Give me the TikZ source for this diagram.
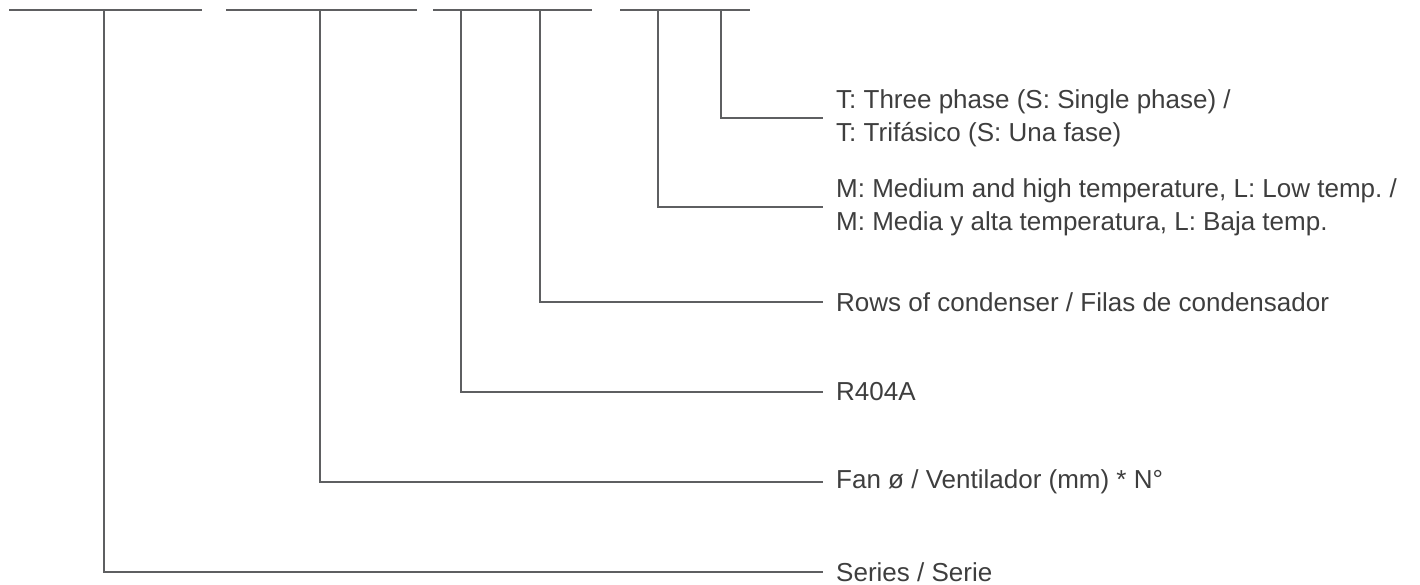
\documentclass[tikz,border=0pt]{standalone}
\usepackage{fontspec}
\setmainfont{Liberation Sans}
\frenchspacing
\definecolor{lc}{HTML}{5E5F61}
\definecolor{tc}{HTML}{3E3E3E}
\begin{document}
\begin{tikzpicture}[x=1pt,y=-1pt,
  bar/.style={draw=lc,line width=2.6pt},
  lead/.style={draw=lc,line width=2.4pt,line join=miter,shorten >=13pt},
  lbl/.style={anchor=west,inner sep=0pt,text=tc,font=\fontsize{26}{33}\selectfont,align=left}]
\useasboundingbox (0,0) rectangle (1420,584);
% top bars
\coordinate (b1l) at (9,10);   \coordinate (b1r) at (202,10);
\coordinate (b2l) at (226,10); \coordinate (b2r) at (417,10);
\coordinate (b3l) at (433,10); \coordinate (b3r) at (592,10);
\coordinate (b4l) at (620,10); \coordinate (b4r) at (750,10);
\draw[bar] (b1l) -- (b1r);
\draw[bar] (b2l) -- (b2r);
\draw[bar] (b3l) -- (b3r);
\draw[bar] (b4l) -- (b4r);
% tops of the leaders
\coordinate (v1) at (104,10);
\coordinate (v2) at (320,10);
\coordinate (v3) at (461,10);
\coordinate (v4) at (540,10);
\coordinate (v5) at (658,10);
\coordinate (v6) at (721,10);
% labels
\node[lbl] (t6) at (836,118) {T: Three phase (S: Single phase) /\\T: Trifásico (S: Una fase)};
\node[lbl] (t5) at (836,207) {M: Medium and high temperature, L: Low temp. /\\M: Media y alta temperatura, L: Baja temp.};
\node[lbl] (t4) at (836,302) {Rows of condenser / Filas de condensador};
\node[lbl] (t3) at (836,392) {R404A};
\node[lbl] (t2) at (836,482) {Fan ø / Ventilador (mm) * N°};
\node[lbl] (t1) at (836,572) {Series / Serie};
% leaders
\draw[lead] (v1) |- (t1.west);
\draw[lead] (v2) |- (t2.west);
\draw[lead] (v3) |- (t3.west);
\draw[lead] (v4) |- (t4.west);
\draw[lead] (v5) |- (t5.west);
\draw[lead] (v6) |- (t6.west);
\end{tikzpicture}
\end{document}
